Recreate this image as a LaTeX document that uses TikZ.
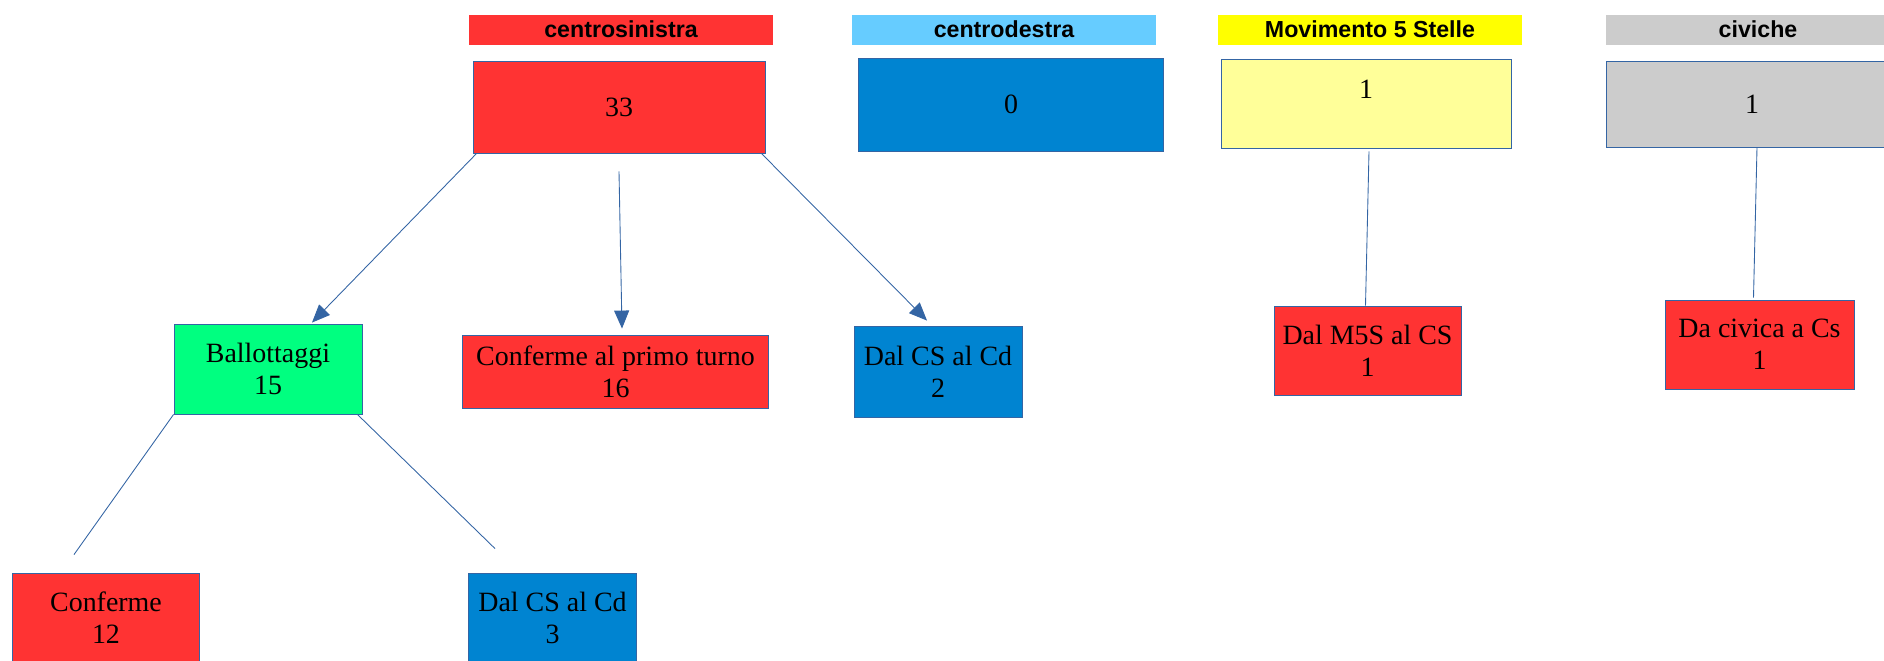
\documentclass[tikz,border=0pt]{standalone}
\usepackage{fontspec}
\setmainfont{Liberation Serif}
\setsansfont{Liberation Sans}
\usetikzlibrary{arrows.meta}

\definecolor{rosso}{HTML}{FF3333}
\definecolor{blu}{HTML}{0084D1}
\definecolor{azzurro}{HTML}{66CCFF}
\definecolor{giallo}{HTML}{FFFF00}
\definecolor{giallino}{HTML}{FFFF99}
\definecolor{grigio}{HTML}{CCCCCC}
\definecolor{verde}{HTML}{00FF80}
\definecolor{bordo}{HTML}{3465A4}

\tikzset{
	partito/.style = {fill=#1, minimum width=6.08cm, minimum height=0.6cm, inner sep=0pt,
		font=\sffamily\bfseries\fontsize{13.2}{15}\selectfont},
	esito/.style = {draw=bordo, line width=0.5pt, fill=#1, inner sep=0pt, align=center,
		font=\fontsize{15.9}{18.2}\selectfont},
	legame/.style = {draw=bordo, line width=0.5pt},
	freccia/.style = {legame, -{Triangle[length=0.36cm, width=0.3cm]}},
}

\begin{document}
\begin{tikzpicture}[x=0.02cm, y=-0.02cm]
	\useasboundingbox (0, 0) rectangle (1884, 660);
	
	% intestazioni
	\node[partito=rosso] (hcs) at (621, 29.5) {centrosinistra};
	\node[partito=azzurro] (hcd) at (1004, 29.5) {centrodestra};
	\node[partito=giallo] (hm5s) at (1370, 29.5) {Movimento 5 Stelle};
	\node[partito=grigio] (hciv) at (1758, 29.5) {civiche};
	
	% totali
	\node[esito=rosso, minimum width=5.84cm, minimum height=1.84cm] (b33) at (619, 107) {33};
	\node[esito=blu, minimum width=6.1cm, minimum height=1.86cm] (b0) at (1011, 104.5) {0};
	\node[esito=giallino, minimum width=5.8cm, minimum height=1.78cm, text depth=0.56cm] (bm5s) at (1366, 103.5) {1};
	\node[esito=grigio, minimum width=5.84cm, minimum height=1.72cm] (bciv) at (1752, 104) {1};
	
	% dettaglio
	\node[esito=verde, minimum width=3.76cm, minimum height=1.8cm] (ball) at (268, 369) {Ballottaggi\\15};
	\node[esito=rosso, minimum width=6.12cm, minimum height=1.46cm] (conf1) at (615.5, 371.5) {Conferme al primo turno\\16};
	\node[esito=blu, minimum width=3.36cm, minimum height=1.82cm] (dcs2) at (938, 371.5) {Dal CS al Cd\\2};
	\node[esito=rosso, minimum width=3.74cm, minimum height=1.78cm] (dm5s) at (1367.5, 350.5) {Dal M5S al CS\\1};
	\node[esito=rosso, minimum width=3.78cm, minimum height=1.78cm] (dciv) at (1759.5, 344.5) {Da civica a Cs\\1};
	\node[esito=rosso, minimum width=3.74cm, minimum height=1.8cm] (conf12) at (106, 618) {Conferme\\12};
	\node[esito=blu, minimum width=3.36cm, minimum height=1.8cm] (dcs3) at (552.5, 618) {Dal CS al Cd\\3};
	
	\draw[freccia] ([xshift=0.08cm]b33.south west) -- ([xshift=0.88cm, yshift=0.02cm]ball.north);
	\draw[freccia] ([yshift=-0.36cm]b33.south) -- ([xshift=0.13cm, yshift=0.12cm]conf1.north);
	\draw[freccia] ([xshift=-0.08cm]b33.south east) -- ([xshift=-0.22cm, yshift=0.1cm]dcs2.north);
	\draw[legame] ([xshift=0.06cm, yshift=-0.06cm]bm5s.south) -- ([xshift=-0.04cm]dm5s.north);
	\draw[legame] ([xshift=0.1cm]bciv.south) -- ([xshift=-0.12cm, yshift=0.04cm]dciv.north);
	\draw[legame] (ball.south west) -- ([xshift=-0.64cm, yshift=0.36cm]conf12.north);
	\draw[legame] ([xshift=-0.1cm]ball.south east) -- ([xshift=-1.15cm, yshift=0.48cm]dcs3.north);
\end{tikzpicture}
\end{document}
